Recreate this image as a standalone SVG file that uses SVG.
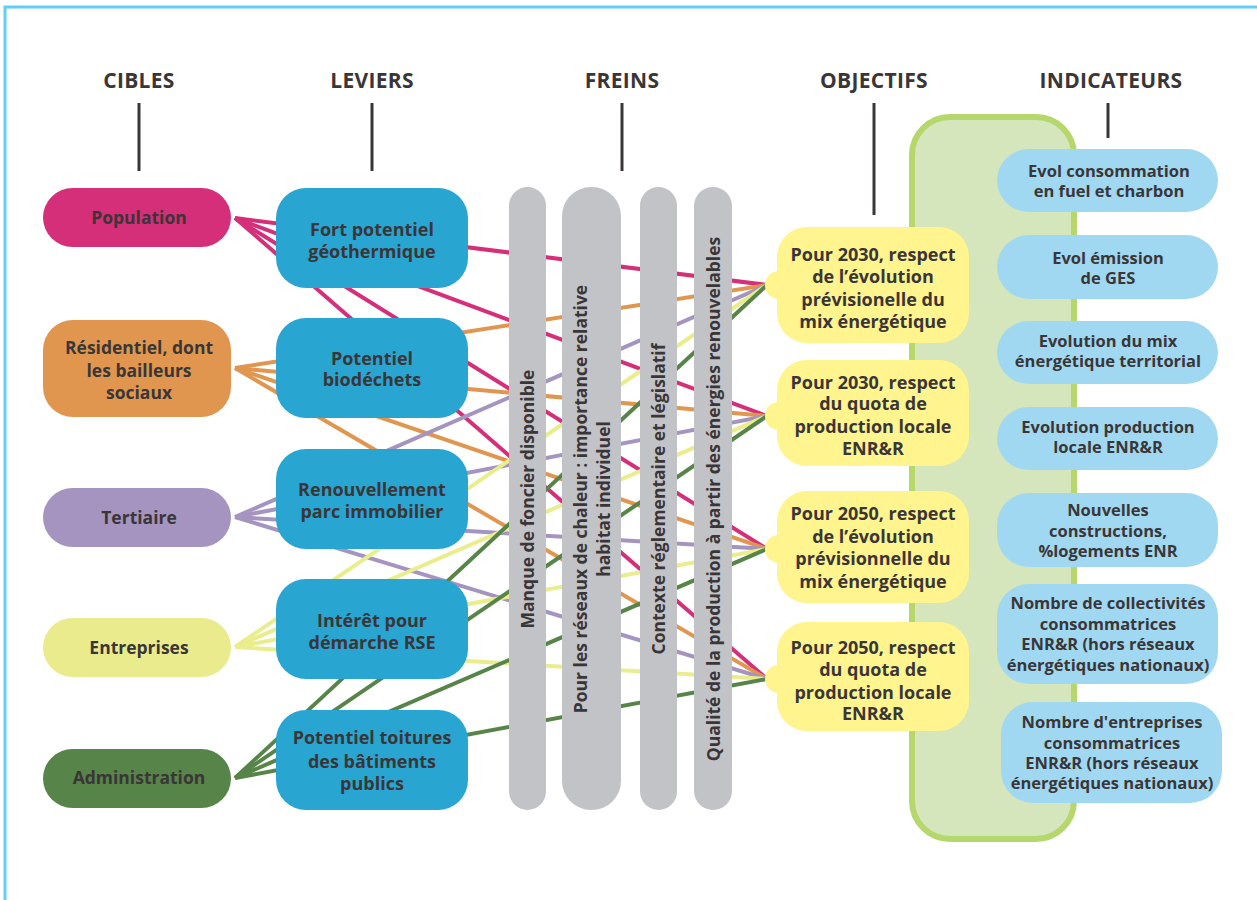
<svg xmlns="http://www.w3.org/2000/svg" width="1257" height="900" viewBox="0 0 1257 900">
<style>
text{font-family:"Open Sans","Liberation Sans",sans-serif;font-weight:700;fill:#3a3637;text-anchor:middle}
.hd{font-size:21px;letter-spacing:0.3px}
.tg{font-size:17.5px}
.lv{font-size:18px}
.fr{font-size:17.5px}
.ob{font-size:18px}
.in{font-size:16.5px}
.hl{stroke:#3a3637;stroke-width:3}
.c line{stroke-width:4;fill:none}
.pk{stroke:#d42f78}.or{stroke:#e0964f}.pu{stroke:#a593c0}.ye{stroke:#eaed8c}.gr{stroke:#578449}
.lev{fill:#29a5d2}
.fb{fill:#c2c3c7}
.obj{fill:#fff48e}
.ind{fill:#a0d8f2}
</style>
<rect x="5" y="7" width="1300" height="950" fill="#ffffff" stroke="#5dd0fb" stroke-width="3"/>
<g id="headers">
<text class="hd" x="139" y="88">CIBLES</text>
<text class="hd" x="372" y="88">LEVIERS</text>
<text class="hd" x="622" y="88">FREINS</text>
<text class="hd" x="874" y="88">OBJECTIFS</text>
<text class="hd" x="1111" y="88">INDICATEURS</text>
<line class="hl" x1="139" y1="103" x2="139" y2="171"/>
<line class="hl" x1="372" y1="103" x2="372" y2="171"/>
<line class="hl" x1="622" y1="103" x2="622" y2="171"/>
<line class="hl" x1="874" y1="103" x2="874" y2="215"/>
<line class="hl" x1="1108" y1="103" x2="1108" y2="138"/>
</g>
<g id="panel">
<rect x="912" y="117" width="162" height="722" rx="38" fill="#d5e5bc" stroke="#b5d76b" stroke-width="6"/>
</g>
<g id="connectors" class="c">
<line class="pk" x1="235" y1="218" x2="767" y2="285"/>
<line class="pk" x1="235" y1="218" x2="767" y2="416"/>
<line class="pk" x1="235" y1="218" x2="767" y2="549"/>
<line class="pk" x1="235" y1="218" x2="767" y2="679"/>
<line class="or" x1="235" y1="368" x2="767" y2="285"/>
<line class="or" x1="235" y1="368" x2="767" y2="416"/>
<line class="or" x1="235" y1="368" x2="767" y2="549"/>
<line class="or" x1="235" y1="368" x2="767" y2="679"/>
<line class="pu" x1="235" y1="517" x2="767" y2="285"/>
<line class="pu" x1="235" y1="517" x2="767" y2="416"/>
<line class="pu" x1="235" y1="517" x2="767" y2="549"/>
<line class="pu" x1="235" y1="517" x2="767" y2="679"/>
<line class="ye" x1="235" y1="647" x2="767" y2="285"/>
<line class="ye" x1="235" y1="647" x2="767" y2="416"/>
<line class="ye" x1="235" y1="647" x2="767" y2="549"/>
<line class="ye" x1="235" y1="647" x2="767" y2="679"/>
<line class="gr" x1="235" y1="778" x2="767" y2="285"/>
<line class="gr" x1="235" y1="778" x2="767" y2="416"/>
<line class="gr" x1="235" y1="778" x2="767" y2="549"/>
<line class="gr" x1="235" y1="778" x2="767" y2="679"/>
</g>
<g id="cible-population">
<rect x="43" y="188" width="188" height="59" rx="29.5" fill="#d42f78"/>
<text class="tg" x="139" y="223.5">Population</text>
</g>
<g id="cible-residentiel">
<rect x="43" y="320" width="188" height="97" rx="30" fill="#e0964f"/>
<text class="tg" x="139" y="354">Résidentiel, dont</text>
<text class="tg" x="139" y="377">les bailleurs</text>
<text class="tg" x="139" y="399">sociaux</text>
</g>
<g id="cible-tertiaire">
<rect x="43" y="488" width="188" height="59" rx="29.5" fill="#a593c0"/>
<text class="tg" x="139" y="523.5">Tertiaire</text>
</g>
<g id="cible-entreprises">
<rect x="43" y="618" width="188" height="59" rx="29.5" fill="#eaeb8c"/>
<text class="tg" x="139" y="653.5">Entreprises</text>
</g>
<g id="cible-administration">
<rect x="43" y="749" width="188" height="59" rx="29.5" fill="#578449"/>
<text class="tg" x="139" y="783.5">Administration</text>
</g>
<g id="levier-geothermique">
<rect class="lev" x="276" y="188" width="192" height="100" rx="30"/>
<text class="lv" x="372" y="235.5">Fort potentiel</text>
<text class="lv" x="372" y="257.5">géothermique</text>
</g>
<g id="levier-biodechets">
<rect class="lev" x="276" y="318" width="192" height="100" rx="30"/>
<text class="lv" x="372" y="364.5">Potentiel</text>
<text class="lv" x="372" y="385.5">biodéchets</text>
</g>
<g id="levier-renouvellement">
<rect class="lev" x="276" y="449" width="192" height="100" rx="30"/>
<text class="lv" x="372" y="495.5">Renouvellement</text>
<text class="lv" x="372" y="517.5">parc immobilier</text>
</g>
<g id="levier-rse">
<rect class="lev" x="276" y="579" width="192" height="100" rx="30"/>
<text class="lv" x="372" y="626.5">Intérêt pour</text>
<text class="lv" x="372" y="648.5">démarche RSE</text>
</g>
<g id="levier-toitures">
<rect class="lev" x="276" y="710" width="192" height="100" rx="30"/>
<text class="lv" x="372" y="743.5">Potentiel toitures</text>
<text class="lv" x="372" y="767.5">des bâtiments</text>
<text class="lv" x="372" y="789.5">publics</text>
</g>
<g id="frein-foncier">
<rect class="fb" x="509" y="187" width="37" height="623" rx="18.5"/>
<text class="fr" transform="translate(527.5,499) rotate(-90)" y="6.5">Manque de foncier disponible</text>
</g>
<g id="frein-reseaux">
<rect class="fb" x="562" y="187" width="59" height="623" rx="29"/>
<text class="fr" transform="translate(580.5,499) rotate(-90)" y="6.5">Pour les réseaux de chaleur : importance relative</text>
<text class="fr" transform="translate(603.5,499) rotate(-90)" y="6.5">habitat individuel</text>
</g>
<g id="frein-contexte">
<rect class="fb" x="640" y="187" width="37" height="623" rx="18.5"/>
<text class="fr" transform="translate(658.5,499) rotate(-90)" y="6.5">Contexte réglementaire et législatif</text>
</g>
<g id="frein-qualite">
<rect class="fb" x="694" y="187" width="38" height="623" rx="19"/>
<text class="fr" transform="translate(713,499) rotate(-90)" y="6.5">Qualité de la production à partir des énergies renouvelables</text>
</g>
<g id="objectif-2030-mix">
<circle class="obj" cx="779" cy="285" r="14"/>
<rect class="obj" x="777" y="227" width="192" height="116" rx="30"/>
<text class="ob" x="873" y="260.5">Pour 2030, respect</text>
<text class="ob" x="873" y="282.5">de l’évolution</text>
<text class="ob" x="873" y="305.5">prévisionelle du</text>
<text class="ob" x="873" y="327.5">mix énergétique</text>
</g>
<g id="objectif-2030-quota">
<circle class="obj" cx="779" cy="416" r="14"/>
<rect class="obj" x="777" y="360" width="192" height="106" rx="30"/>
<text class="ob" x="873" y="388.5">Pour 2030, respect</text>
<text class="ob" x="873" y="409.5">du quota de</text>
<text class="ob" x="873" y="432.5">production locale</text>
<text class="ob" x="873" y="454.5">ENR&amp;R</text>
</g>
<g id="objectif-2050-mix">
<circle class="obj" cx="779" cy="549" r="14"/>
<rect class="obj" x="777" y="491" width="192" height="112" rx="30"/>
<text class="ob" x="873" y="519.5">Pour 2050, respect</text>
<text class="ob" x="873" y="542.5">de l’évolution</text>
<text class="ob" x="873" y="564.5">prévisionnelle du</text>
<text class="ob" x="873" y="587.5">mix énergétique</text>
</g>
<g id="objectif-2050-quota">
<circle class="obj" cx="779" cy="679" r="14"/>
<rect class="obj" x="777" y="622" width="192" height="109" rx="30"/>
<text class="ob" x="873" y="653.5">Pour 2050, respect</text>
<text class="ob" x="873" y="675.5">du quota de</text>
<text class="ob" x="873" y="698.5">production locale</text>
<text class="ob" x="873" y="719.5">ENR&amp;R</text>
</g>
<g id="indicateur-fuel">
<rect class="ind" x="997" y="149" width="221" height="63" rx="31.5"/>
<text class="in" x="1109" y="177">Evol consommation</text>
<text class="in" x="1109" y="197">en fuel et charbon</text>
</g>
<g id="indicateur-ges">
<rect class="ind" x="997" y="235" width="221" height="64" rx="32"/>
<text class="in" x="1108" y="264">Evol émission</text>
<text class="in" x="1108" y="284">de GES</text>
</g>
<g id="indicateur-mix">
<rect class="ind" x="997" y="321" width="221" height="63" rx="31.5"/>
<text class="in" x="1108" y="347">Evolution du mix</text>
<text class="in" x="1108" y="367">énergétique territorial</text>
</g>
<g id="indicateur-production">
<rect class="ind" x="997" y="407" width="221" height="63" rx="31.5"/>
<text class="in" x="1108" y="433">Evolution production</text>
<text class="in" x="1108" y="453">locale ENR&amp;R</text>
</g>
<g id="indicateur-constructions">
<rect class="ind" x="997" y="493" width="221" height="74" rx="32"/>
<text class="in" x="1108" y="516">Nouvelles</text>
<text class="in" x="1108" y="537">constructions,</text>
<text class="in" x="1108" y="557">%logements ENR</text>
</g>
<g id="indicateur-collectivites">
<rect class="ind" x="997" y="584" width="221" height="100" rx="32"/>
<text class="in" x="1108" y="609">Nombre de collectivités</text>
<text class="in" x="1108" y="630">consommatrices</text>
<text class="in" x="1108" y="650">ENR&amp;R (hors réseaux</text>
<text class="in" x="1108" y="671">énergétiques nationaux)</text>
</g>
<g id="indicateur-entreprises">
<rect class="ind" x="1001" y="702" width="221" height="101" rx="32"/>
<text class="in" x="1112" y="728">Nombre d'entreprises</text>
<text class="in" x="1112" y="749">consommatrices</text>
<text class="in" x="1112" y="769">ENR&amp;R (hors réseaux</text>
<text class="in" x="1112" y="789">énergétiques nationaux)</text>
</g>
</svg>
